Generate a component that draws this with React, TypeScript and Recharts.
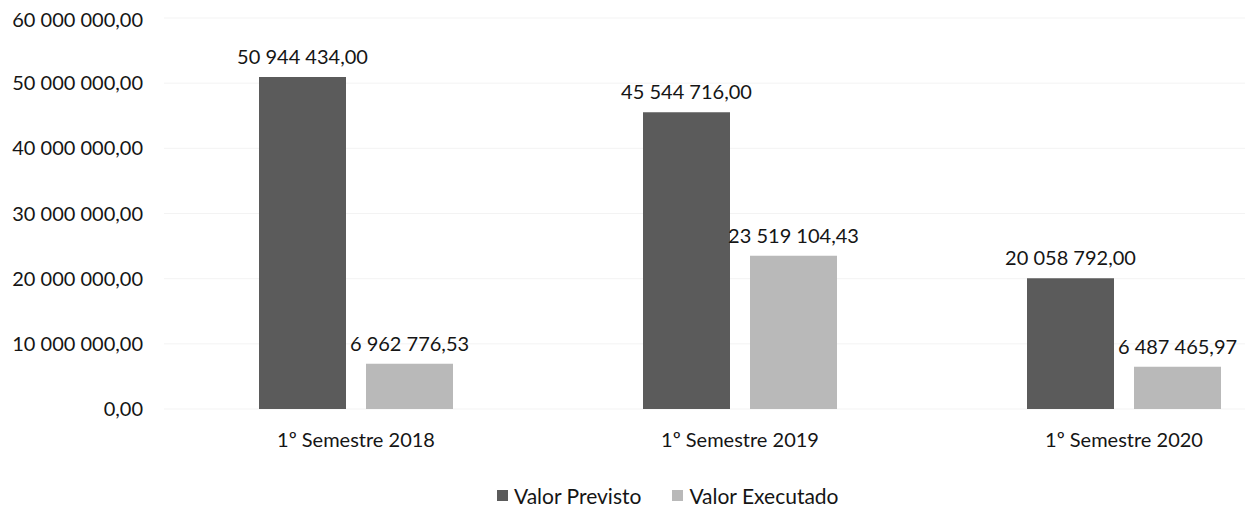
import React from 'react';
import { BarChart, Bar, XAxis, YAxis, CartesianGrid, Legend, LabelList } from 'recharts';

const categories = ['1º Semestre 2018', '1º Semestre 2019', '1º Semestre 2020'];
const valorPrevisto = [50944434.0, 45544716.0, 20058792.0];
const valorExecutado = [6962776.53, 23519104.43, 6487465.97];
const yTicks = [0, 10000000, 20000000, 30000000, 40000000, 50000000, 60000000];
const seriesOrder = ['Valor Previsto', 'Valor Executado'];

const data = categories.map((c, i) => ({
  name: c,
  previsto: valorPrevisto[i],
  executado: valorExecutado[i],
}));

const fmt = (v: number) => {
  const fixed = Number(v).toFixed(2);
  const [int, dec] = fixed.split('.');
  return int.replace(/\B(?=(\d{3})+(?!\d))/g, ' ') + ',' + dec;
};

const FONT = 'Lato, "DejaVu Sans", sans-serif';
const TEXT = '#151515';
const DARK = '#5b5b5b';
const LIGHT = '#b9b9b9';
const FS = 20;

const renderLabel = (props: any) => {
  const { x, y, width, value } = props;
  return (
    <text
      x={Number(x) + Number(width) / 2}
      y={Number(y) - 13}
      textAnchor="middle"
      fill={TEXT}
      fontFamily={FONT}
      fontSize={FS}
    >
      {fmt(value)}
    </text>
  );
};

const LegendContent = (props: any) => {
  const payload = [...(props.payload || [])].sort(
    (a: any, b: any) => seriesOrder.indexOf(a.value) - seriesOrder.indexOf(b.value)
  );
  return (
    <div style={{ display: 'flex', alignItems: 'center', fontFamily: FONT, fontSize: 21, color: TEXT }}>
      {payload.map((p: any, i: number) => (
        <div key={i} style={{ display: 'flex', alignItems: 'center', marginRight: i === 0 ? 31 : 0 }}>
          <span style={{ display: 'inline-block', width: 11, height: 11, background: p.color, marginRight: 6 }} />
          <span>{p.value}</span>
        </div>
      ))}
    </div>
  );
};

export default function App() {
  return (
    <div style={{ width: 1245, height: 500, background: '#fff' }}>
      <BarChart
        width={1245}
        height={500}
        data={data}
        margin={{ top: 10, right: 0, bottom: 59, left: 0 }}
        barSize={87}
        barGap={20}
      >
        <CartesianGrid vertical={false} stroke="#f3f3f3" />
        <XAxis
          dataKey="name"
          axisLine={false}
          tickLine={false}
          height={40}
          tickMargin={18}
          padding={{ left: 0, right: -63 }}
          tick={{ fill: TEXT, fontFamily: FONT, fontSize: FS }}
        />
        <YAxis
          width={156}
          domain={[0, 60000000]}
          ticks={yTicks}
          axisLine={false}
          tickLine={false}
          tickMargin={15}
          tickFormatter={fmt}
          tick={{ fill: TEXT, fontFamily: FONT, fontSize: FS }}
        />
        <Legend
          verticalAlign="middle"
          layout="horizontal"
          content={<LegendContent />}
          wrapperStyle={{ top: 475, left: 489, width: 'auto' }}
        />
        <Bar dataKey="previsto" name="Valor Previsto" fill={DARK} isAnimationActive={false}>
          <LabelList dataKey="previsto" content={renderLabel} />
        </Bar>
        <Bar dataKey="executado" name="Valor Executado" fill={LIGHT} isAnimationActive={false}>
          <LabelList dataKey="executado" content={renderLabel} />
        </Bar>
      </BarChart>
    </div>
  );
}
